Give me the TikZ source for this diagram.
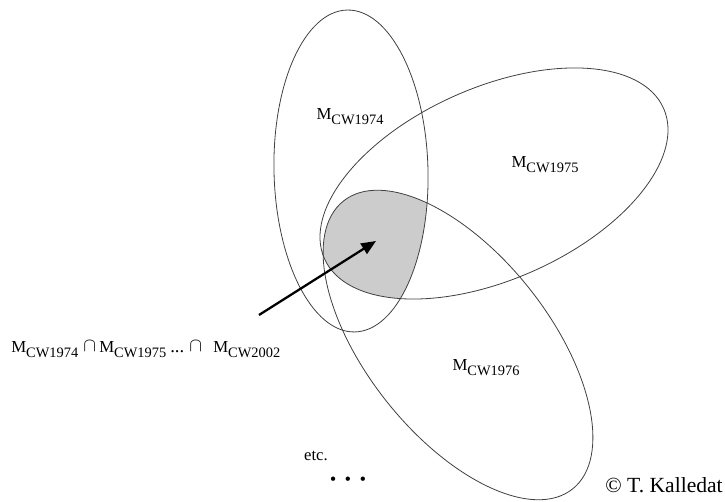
\documentclass[tikz,border=0pt]{standalone}
\usepackage{fontspec}
\setmainfont{Liberation Serif}
\usetikzlibrary{arrows.meta}
\newcommand\MCW[1]{\fontsize{12.6}{13}\selectfont M\raisebox{-3.6pt}{\fontsize{10.8}{11}\selectfont CW#1}}
\newcommand\capsym{\raisebox{1pt}{\fontsize{15}{15}\selectfont$\cap$}}
\begin{document}
\begin{tikzpicture}[x=0.75pt,y=0.75pt,
  setline/.style={line width=0.6pt,draw=black!75},
  lbl/.style={inner sep=0pt,font=\fontsize{12.6}{13}\selectfont},
  arr/.style={line width=1.7pt,-{Triangle[length=11pt,width=9pt]}}]
\useasboundingbox (0,0) rectangle (725,502);
% shaded intersection
\begin{scope}
  \clip[rotate around={1.4:(351,331)}] (351,331) ellipse [x radius=77, y radius=161];
  \clip[rotate around={23.9:(494,318.5)}] (494,318.5) ellipse [x radius=185.5, y radius=96];
  \fill[black!20,rotate around={-51.5:(458,157)}] (458,157) ellipse [x radius=184, y radius=91];
\end{scope}
% the three sets
\draw[setline,rotate around={1.4:(351,331)}] (351,331) ellipse [x radius=77, y radius=161];
\draw[setline,rotate around={23.9:(494,318.5)}] (494,318.5) ellipse [x radius=185.5, y radius=96];
\draw[setline,rotate around={-51.5:(458,157)}] (458,157) ellipse [x radius=184, y radius=91];
% labels
\node[lbl] (l74) at (350,385) {\MCW{1974}};
\node[lbl] (l75) at (545,337) {\MCW{1975}};
\node[lbl] (l76) at (486,134) {\MCW{1976}};
\node[lbl,anchor=west] (form) at (11,153) {\rlap{\MCW{1974}}\hspace{54pt}\rlap{\capsym}\hspace{12pt}\rlap{\MCW{1975}}\hspace{53.25pt}\rlap{\fontsize{14}{14}\selectfont ...}\hspace{14.25pt}\rlap{\capsym}\hspace{18pt}\MCW{2002}};
\node[lbl,font=\fontsize{12.5}{13}\selectfont] (etc) at (316,46) {etc.};
\node[lbl,font=\fontsize{12}{13}\selectfont\bfseries] (dots) at (348,21) {\textbullet\hspace{7pt}\textbullet\hspace{7pt}\textbullet};
\node[lbl,anchor=east,font=\fontsize{16.2}{18}\selectfont] (copy) at (723,17) {© T. Kalledat};
% arrow
\coordinate (tail) at (259,187);
\coordinate (tip) at (376,261);
\draw[arr] (tail) -- (tip);
\end{tikzpicture}
\end{document}
